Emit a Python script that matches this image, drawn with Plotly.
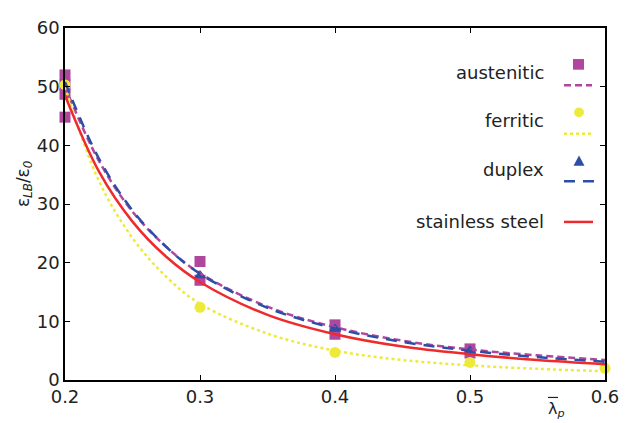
import plotly.graph_objects as go

# ---- data ----
x_fit = [0.2, 0.225, 0.25, 0.275, 0.3, 0.35, 0.4, 0.45, 0.5, 0.55, 0.6]
aust_fit = [50.0, 37.4, 28.7, 22.7, 18.2, 12.5, 9.0, 6.7, 5.2, 4.2, 3.4]
ferr_fit = [50.0, 34.0, 24.2, 17.6, 13.0, 7.9, 5.0, 3.4, 2.5, 1.9, 1.5]
dup_fit = [50.8, 37.8, 28.9, 22.7, 18.1, 12.3, 8.8, 6.5, 5.0, 3.9, 3.1]
ss_fit = [48.5, 35.6, 27.0, 21.0, 16.7, 11.1, 7.8, 5.7, 4.4, 3.4, 2.7]

aust_x = [0.2, 0.2, 0.2, 0.2, 0.3, 0.3, 0.4, 0.4, 0.5, 0.5]
aust_y = [52.0, 50.3, 48.7, 44.8, 20.2, 17.0, 9.4, 7.8, 5.3, 4.6]
ferr_x = [0.2, 0.3, 0.4, 0.5, 0.6]
ferr_y = [50.3, 12.4, 4.7, 3.0, 2.0]
dup_x = [0.3, 0.4, 0.5]
dup_y = [17.8, 8.7, 5.0]

x_ticks = [0.2, 0.3, 0.4, 0.5, 0.6]
y_ticks = [0, 10, 20, 30, 40, 50, 60]
names = ["austenitic", "ferritic", "duplex", "stainless steel"]

C_AUS = "#B0479F"
C_FER = "#EDEA3C"
C_DUP = "#2D4EA6"
C_SS = "#EF2A2C"
FONT = "DejaVu Sans"

# page body has an 8px margin; figure is sized so the plot lands where the reference has it
W, H = 627, 415
L, R, T, B = 57, 30, 9, 43


def px(xp):
    # xp: pixel in window coordinates
    return (xp - 8 - L) / (W - L - R)


def py(yp):
    return (H - B - (yp - 8)) / (H - T - B)


fig = go.Figure()
fig.add_trace(go.Scatter(x=aust_x, y=aust_y, mode="markers", cliponaxis=False,
                         marker=dict(symbol="square", size=11, color=C_AUS)))
fig.add_trace(go.Scatter(x=ferr_x, y=ferr_y, mode="markers", cliponaxis=False,
                         marker=dict(symbol="circle", size=11, color=C_FER)))
fig.add_trace(go.Scatter(x=dup_x, y=dup_y, mode="markers", cliponaxis=False,
                         marker=dict(symbol="triangle-up", size=11, color=C_DUP)))
fig.add_trace(go.Scatter(x=x_fit, y=aust_fit, mode="lines", line_shape="spline",
                         line=dict(color=C_AUS, width=2.5, dash="7px,4px")))
fig.add_trace(go.Scatter(x=x_fit, y=ferr_fit, mode="lines", line_shape="spline",
                         line=dict(color=C_FER, width=2.5, dash="dot")))
fig.add_trace(go.Scatter(x=x_fit, y=dup_fit, mode="lines", line_shape="spline",
                         line=dict(color=C_DUP, width=2.5, dash="11px,8px")))
fig.add_trace(go.Scatter(x=x_fit, y=ss_fit, mode="lines", line_shape="spline",
                         line=dict(color=C_SS, width=2.5)))

axis_common = dict(showline=True, linecolor="black", linewidth=1.5, mirror="ticks",
                   ticks="inside", ticklen=5, tickwidth=1.2, tickcolor="black",
                   showgrid=False, zeroline=False,
                   tickfont=dict(family=FONT, size=18, color="#222"))

fig.update_layout(
    width=W, height=H, showlegend=False,
    margin=dict(l=L, r=R, t=T, b=B),
    plot_bgcolor="white", paper_bgcolor="white",
    xaxis=dict(range=[0.2, 0.6], tickvals=x_ticks, ticktext=[str(v) for v in x_ticks], **axis_common),
    yaxis=dict(range=[0, 60], tickvals=y_ticks, **axis_common),
)

annotations = []
shapes = []
# legend texts
for name, yp in zip(names, [63, 112, 163, 217]):
    annotations.append(dict(x=px(546), y=py(yp), xref="paper", yref="paper", text=name,
                            showarrow=False, xanchor="right", yanchor="middle",
                            font=dict(family=FONT, size=18, color="#222")))
# legend symbols
shapes.append(dict(type="rect", xref="paper", yref="paper", x0=px(573), x1=px(584),
                   y0=py(60), y1=py(49), fillcolor=C_AUS, line=dict(width=0)))
shapes.append(dict(type="line", xref="paper", yref="paper", x0=px(564), x1=px(592),
                   y0=py(76), y1=py(76), line=dict(color=C_AUS, width=2.5, dash="7px,4px")))
shapes.append(dict(type="circle", xref="paper", yref="paper", x0=px(574), x1=px(584),
                   y0=py(109), y1=py(99), fillcolor=C_FER, line=dict(width=0)))
shapes.append(dict(type="line", xref="paper", yref="paper", x0=px(564), x1=px(592),
                   y0=py(126), y1=py(126), line=dict(color=C_FER, width=2.5, dash="dot")))
shapes.append(dict(type="path", xref="paper", yref="paper",
                   path="M {:.4f},{:.4f} L {:.4f},{:.4f} L {:.4f},{:.4f} Z".format(
                       px(579), py(148.5), px(573.5), py(159), px(584.5), py(159)),
                   fillcolor=C_DUP, line=dict(width=0)))
shapes.append(dict(type="line", xref="paper", yref="paper", x0=px(564), x1=px(594),
                   y0=py(175), y1=py(175), line=dict(color=C_DUP, width=2.5, dash="11px,8px")))
shapes.append(dict(type="line", xref="paper", yref="paper", x0=px(564), x1=px(593),
                   y0=py(217), y1=py(217), line=dict(color=C_SS, width=2.5)))

# axis titles
annotations.append(dict(x=px(24), y=py(178), xref="paper", yref="paper",
                        text="ε<sub><i>LB</i></sub>/ε<sub><i>0</i></sub>", textangle=-90,
                        showarrow=False, xanchor="center", yanchor="middle",
                        font=dict(family=FONT, size=17, color="#222")))
annotations.append(dict(x=px(546), y=py(410), xref="paper", yref="paper",
                        text="λ<sub><i>p</i></sub>", showarrow=False, xanchor="left",
                        yanchor="middle",
                        font=dict(family=FONT, size=16, color="#222")))
shapes.append(dict(type="line", xref="paper", yref="paper", x0=px(548), x1=px(558),
                   y0=py(398), y1=py(398), line=dict(color="#222", width=1.2)))

fig.update_layout(annotations=annotations, shapes=shapes)
fig.write_html("out.html")
